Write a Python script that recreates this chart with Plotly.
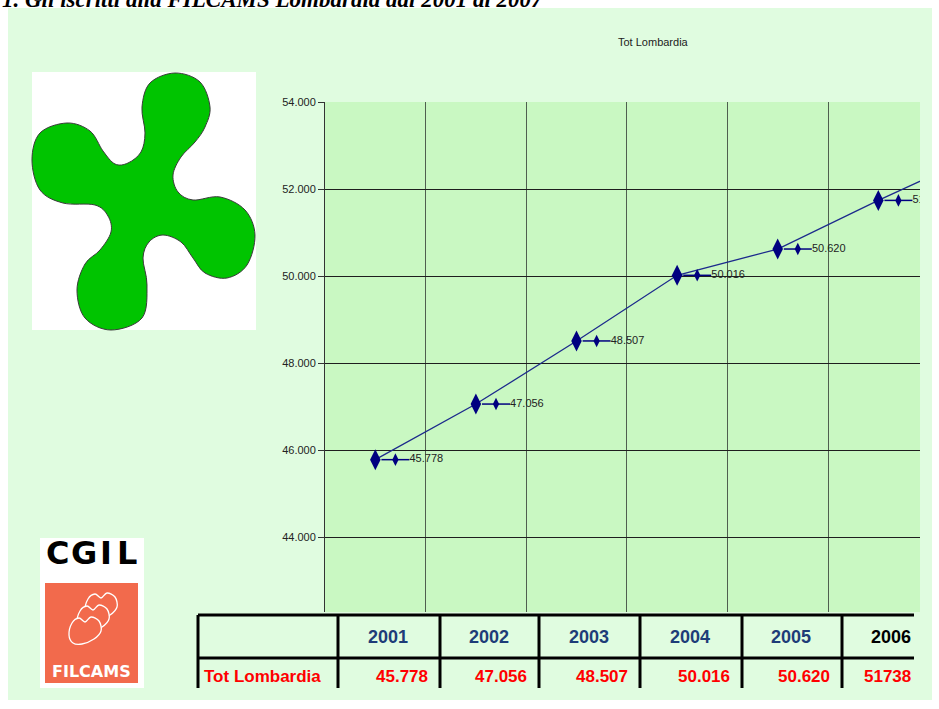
import plotly.graph_objects as go

# ---------------- data ----------------
years = ["2001", "2002", "2003", "2004", "2005", "2006", "2007"]
iscritti = [45778, 47056, 48507, 50016, 50620, 51738, 52800]  # 2007 estimated (cut off at right edge)
table_years = ["2001", "2002", "2003", "2004", "2005", "2006"]
table_values = ["45.778", "47.056", "48.507", "50.016", "50.620", "51738"]
y_ticks = [44000, 46000, 48000, 50000, 52000, 54000]
series_name = "Tot Lombardia"
page_title = "1. Gli iscritti alla FILCAMS Lombardia dal 2001 al 2007"

# ---------------- geometry helpers ----------------
W, H = 939, 709
L, R, T, B = 325, 920, 102, 612


def px(x):
    return (x - L) / (R - L)


def py(y):
    return (B - y) / (B - T)


def smooth_path(pts, ox=0, oy=0):
    n = len(pts)
    P = [(x + ox, y + oy) for x, y in pts]
    s = "M %.5f,%.5f " % (px(P[0][0]), py(P[0][1]))
    for i in range(n):
        p0 = P[(i - 1) % n]
        p1 = P[i]
        p2 = P[(i + 1) % n]
        p3 = P[(i + 2) % n]
        c1 = (p1[0] + (p2[0] - p0[0]) / 6, p1[1] + (p2[1] - p0[1]) / 6)
        c2 = (p2[0] - (p3[0] - p1[0]) / 6, p2[1] - (p3[1] - p1[1]) / 6)
        s += "C %.5f,%.5f %.5f,%.5f %.5f,%.5f " % (
            px(c1[0]), py(c1[1]), px(c2[0]), py(c2[1]), px(p2[0]), py(p2[1]))
    return s + "Z"


NARROW = "Liberation Sans Narrow, Arial Narrow, Liberation Sans, Arial, sans-serif"
NAVY = "#000080"

idx = list(range(len(years)))

fig = go.Figure()
fig.add_trace(go.Scatter(
    x=idx, y=iscritti, mode="lines+markers",
    line=dict(color="#1c2a8c", width=1.3),
    marker=dict(symbol="diamond-tall", size=15, color=NAVY),
    hoverinfo="skip", showlegend=False))
fig.add_trace(go.Scatter(
    x=[i + 0.2 for i in idx], y=iscritti, mode="markers",
    marker=dict(symbol="line-ew", size=20, line=dict(color=NAVY, width=1.5)),
    hoverinfo="skip", showlegend=False))
fig.add_trace(go.Scatter(
    x=[i + 0.2 for i in idx], y=iscritti, mode="markers",
    marker=dict(symbol="diamond-tall", size=9, color=NAVY),
    hoverinfo="skip", showlegend=False))
fig.add_trace(go.Scatter(
    x=[i + 0.34 for i in idx], y=iscritti, mode="text",
    texttemplate="%{y:,d}", textposition="middle right",
    textfont=dict(family=NARROW, size=11, color="#222222"),
    hoverinfo="skip", showlegend=False))

shapes = []
# light green panel
shapes.append(dict(type="rect", xref="paper", yref="paper", layer="below",
                   x0=px(8), x1=px(932), y0=py(8), y1=py(700),
                   fillcolor="#e0fce0", line=dict(width=0)))
# plot area background
shapes.append(dict(type="rect", xref="paper", yref="paper", layer="below",
                   x0=0, x1=1, y0=0, y1=1,
                   fillcolor="#c9f8c2", line=dict(width=0)))
# Lombardy logo box
shapes.append(dict(type="rect", xref="paper", yref="paper", layer="below",
                   x0=px(32), x1=px(256), y0=py(72), y1=py(330),
                   fillcolor="white", line=dict(width=0)))
lomb_pts = [(175, 73), (200, 82), (210, 107), (205, 127), (195, 142), (181, 157),
            (173, 175), (178, 192), (193, 200), (220, 197), (245, 210), (255, 235),
            (247, 265), (227, 278), (205, 273), (193, 258), (181, 242), (163, 235),
            (149, 242), (143, 258), (147, 285), (142, 318), (111, 330), (85, 318),
            (77, 290), (85, 264), (100, 250), (111, 232), (108, 216), (95, 205),
            (63, 203), (40, 190), (32, 160), (40, 133), (67, 123), (90, 131),
            (103, 151), (115, 164), (128, 163), (141, 152), (145, 133), (142, 107),
            (150, 83)]
shapes.append(dict(type="path", xref="paper", yref="paper", layer="below",
                   path=smooth_path(lomb_pts), fillcolor="#00c400",
                   line=dict(color="#3a3a3a", width=1)))
# CGIL logo
shapes.append(dict(type="rect", xref="paper", yref="paper", layer="below",
                   x0=px(40), x1=px(144), y0=py(538), y1=py(688),
                   fillcolor="white", line=dict(width=0)))
shapes.append(dict(type="rect", xref="paper", yref="paper", layer="below",
                   x0=px(45), x1=px(138), y0=py(583), y1=py(683),
                   fillcolor="#f26a4c", line=dict(width=0)))
cloud = [(0, 18), (3, 6), (10, 1), (16, 5), (22, 0), (30, 4), (32, 14), (25, 22),
         (13, 27), (4, 26)]
for ox, oy in [(85, 593), (77, 605), (69, 617)]:
    shapes.append(dict(type="path", xref="paper", yref="paper", layer="below",
                       path=smooth_path(cloud, ox, oy), fillcolor="#f26a4c",
                       line=dict(color="white", width=1.3)))
# table lines
TL, TR = 198, 914
col_edges = [338, 440, 539, 640, 742, 842, 942]
for yy in (615, 658):
    shapes.append(dict(type="line", xref="paper", yref="paper",
                       x0=px(TL), x1=px(TR), y0=py(yy), y1=py(yy),
                       line=dict(color="black", width=3)))
for xx in [TL] + col_edges:
    if xx < TR:
        shapes.append(dict(type="line", xref="paper", yref="paper",
                           x0=px(xx), x1=px(xx), y0=py(615), y1=py(688),
                           line=dict(color="black", width=3)))

annotations = []
annotations.append(dict(text="<b><i>" + page_title + "</i></b>", xref="paper", yref="paper",
                        x=px(0), y=py(14), xanchor="left", yanchor="bottom",
                        showarrow=False, font=dict(family="Liberation Serif, Times New Roman, serif",
                                                   size=23, color="black")))
annotations.append(dict(text=series_name, xref="paper", yref="paper",
                        x=px(653), y=py(42), xanchor="center", yanchor="middle",
                        showarrow=False, font=dict(family=NARROW, size=11, color="#222222")))
for ch, cx in zip("CGIL", [57, 84, 106, 127]):
    annotations.append(dict(text="<b>" + ch + "</b>", xref="paper", yref="paper",
                            x=px(cx), y=py(553), xanchor="center", yanchor="middle",
                            showarrow=False, font=dict(family="DejaVu Sans, sans-serif",
                                                       size=32, color="black")))
annotations.append(dict(text="<b>FILCAMS</b>", xref="paper", yref="paper",
                        x=px(91), y=py(671), xanchor="center", yanchor="middle",
                        showarrow=False, font=dict(family="DejaVu Sans, sans-serif",
                                                   size=16, color="white")))
annotations.append(dict(text="<b>" + series_name + "</b>", xref="paper", yref="paper",
                        x=px(202), y=py(676), xanchor="left", yanchor="middle",
                        showarrow=False, font=dict(family=NARROW, size=17, color="#ff0000")))
for i, (yr, val) in enumerate(zip(table_years, table_values)):
    left, right = col_edges[i], col_edges[i + 1]
    annotations.append(dict(text="<b>" + yr + "</b>", xref="paper", yref="paper",
                            x=px((left + right) / 2 - 1), y=py(637), xanchor="center",
                            yanchor="middle", showarrow=False,
                            font=dict(family=NARROW, size=18,
                                      color="black" if i == len(table_years) - 1 else "#1e3c78")))
    annotations.append(dict(text="<b>" + val + "</b>", xref="paper", yref="paper",
                            x=px(min(right, 923) - 10), y=py(676), xanchor="right",
                            yanchor="middle", showarrow=False,
                            font=dict(family=NARROW, size=17, color="#ff0000")))

fig.update_layout(
    width=W, height=H, autosize=False,
    margin=dict(l=L, r=W - R, t=T, b=H - B, pad=0),
    paper_bgcolor="white", plot_bgcolor="rgba(0,0,0,0)",
    separators=",.",
    showlegend=False,
    shapes=shapes, annotations=annotations,
    xaxis=dict(range=[-0.5, (R - L) / 100.6 - 0.5], tickvals=[0.5, 1.5, 2.5, 3.5, 4.5, 5.5],
               showticklabels=False, ticks="", showgrid=True, gridcolor="#4f5f4f",
               gridwidth=1, zeroline=False, showline=False, fixedrange=True),
    yaxis=dict(range=[54000 - (B - T) / 87 * 2000, 54000], tickvals=y_ticks,
               tickformat=",d", showgrid=True, gridcolor="#1e1e1e", gridwidth=1,
               zeroline=False, showline=True, linecolor="#333333", linewidth=1,
               ticks="outside", ticklen=6, tickcolor="#333333",
               tickfont=dict(family=NARROW, size=11, color="#222222"), fixedrange=True),
)

fig.write_html("out.html")
